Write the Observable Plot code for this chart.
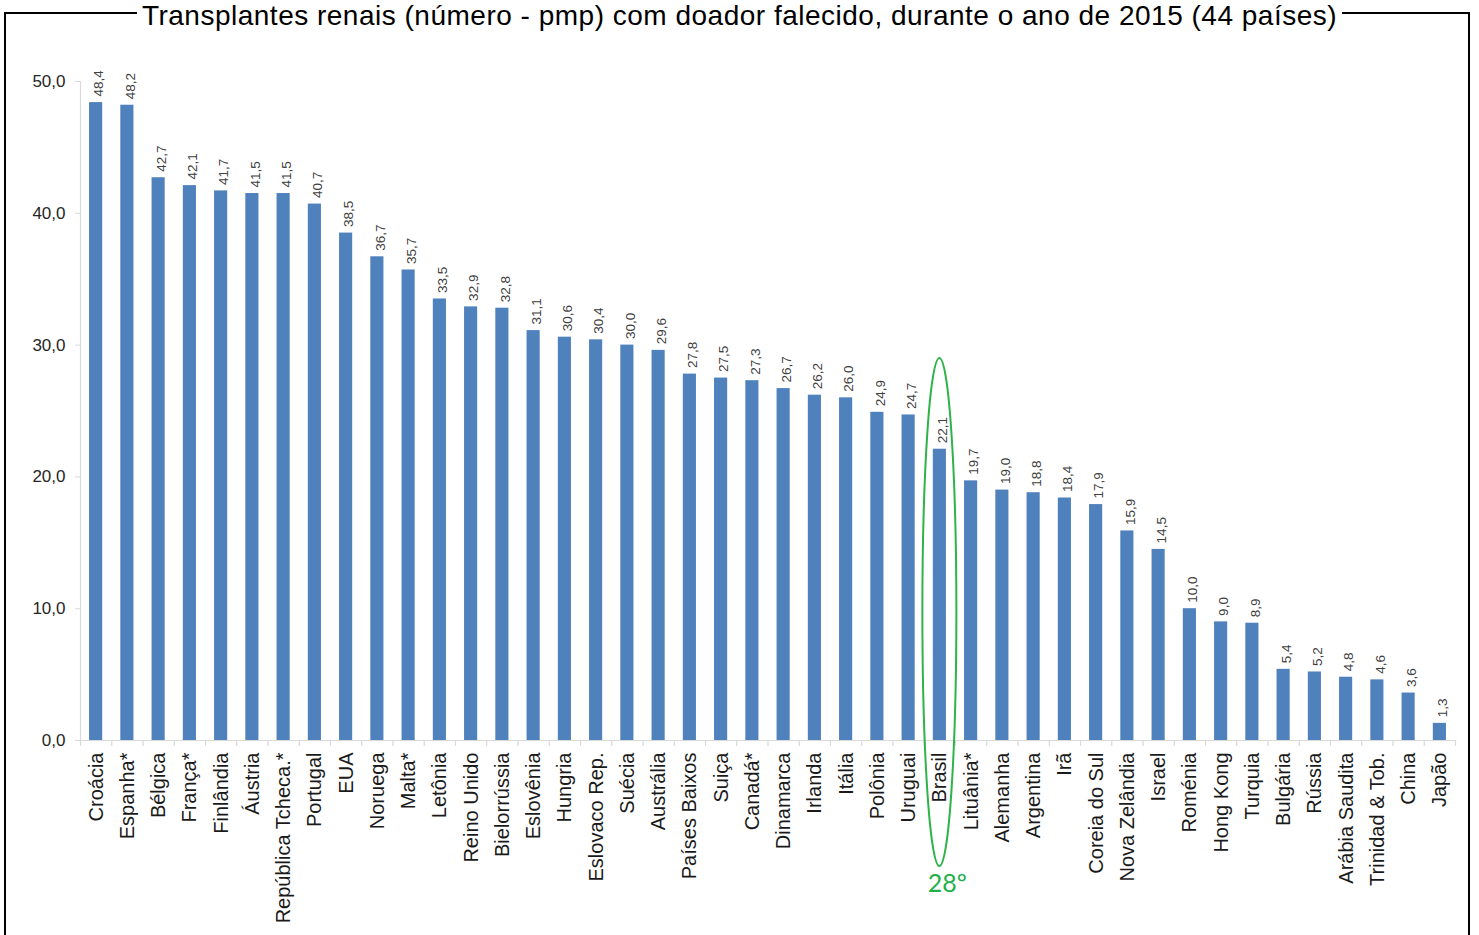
<!DOCTYPE html>
<html><head><meta charset="utf-8">
<script src="https://cdn.jsdelivr.net/npm/d3@7"></script>
<script src="https://cdn.jsdelivr.net/npm/@observablehq/plot@0.6"></script>
<style>
html,body{margin:0;padding:0;background:#fff;overflow:hidden;}
#wrap{position:relative;width:1479px;height:935px;}
#box{position:absolute;left:4px;top:12px;width:1466px;height:960px;border:2.5px solid #000;box-sizing:border-box;}
#title{position:absolute;top:0;left:0;width:1479px;text-align:center;font-family:"Liberation Sans",Arial,sans-serif;font-size:28px;letter-spacing:0.5px;line-height:normal;color:#000;white-space:nowrap;}
#title span{background:#fff;padding:0 5px;}
#chart{position:absolute;left:0;top:0;}
</style></head>
<body><div id="wrap"><div id="box"></div><div id="chart"></div><div id="title"><span>Transplantes renais (número - pmp) com doador falecido, durante o ano de 2015 (44 países)</span></div></div>
<script>
const countries = ["Croácia","Espanha*","Bélgica","França*","Finlândia","Áustria","República Tcheca.*","Portugal","EUA","Noruega","Malta*","Letônia","Reino Unido","Bielorrússia","Eslovênia","Hungria","Eslovaco Rep.","Suécia","Austrália","Países Baixos","Suiça","Canadá*","Dinamarca","Irlanda","Itália","Polônia","Uruguai","Brasil","Lituânia*","Alemanha","Argentina","Irã","Coreia do Sul","Nova Zelândia","Israel","Roménia","Hong Kong","Turquia","Bulgária","Rússia","Arábia Saudita","Trinidad & Tob.","China","Japão"];
const values = [48.4,48.2,42.7,42.1,41.7,41.5,41.5,40.7,38.5,36.7,35.7,33.5,32.9,32.8,31.1,30.6,30.4,30.0,29.6,27.8,27.5,27.3,26.7,26.2,26.0,24.9,24.7,22.1,19.7,19.0,18.8,18.4,17.9,15.9,14.5,10.0,9.0,8.9,5.4,5.2,4.8,4.6,3.6,1.3];
const yTicks = [0,10,20,30,40,50];
const highlight = "Brasil";
const rankLabel = "28º";

const data = countries.map((c,i)=>({country:c, value:values[i]}));
const fmt = v => v.toFixed(1).replace(".", ",");
const W = 1479, H = 935, ML = 80, MR = 24, MT = 81, MB = 195;
const step = (W - ML - MR) / countries.length;
const font = "'Liberation Sans', Arial, sans-serif";

const plot = Plot.plot({
  width: W, height: H,
  marginLeft: ML, marginRight: MR, marginTop: MT, marginBottom: MB,
  style: {fontFamily: font, background: "transparent", overflow: "visible"},
  x: {domain: countries, paddingInner: 0.58, paddingOuter: 0.29, round: false, label: null},
  y: {domain: [0, 50], label: null},
  marks: [
    Plot.frame({anchor: "left", stroke: "#d9d9d9", strokeWidth: 1.2}),
    Plot.barY(data, {x: "country", y: "value", fill: "#4f81bd"}),
    Plot.ruleY([0], {stroke: "#d9d9d9", strokeWidth: 1.2}),
    Plot.ruleX(countries, {x: d => d, dx: -step/2, y1: 0, y2: -0.45, stroke: "#d9d9d9", strokeWidth: 1.2}),
    Plot.ruleX([countries[countries.length-1]], {x: d => d, dx: step/2, y1: 0, y2: -0.45, stroke: "#d9d9d9", strokeWidth: 1.2}),
    Plot.axisY({ticks: yTicks, tickFormat: fmt, tickSize: 5, tickPadding: 10, fontSize: 17, stroke: "#d9d9d9", fill: "#262626"}),
    Plot.axisX({tickSize: 0, tickPadding: 12, tickRotate: -90, fontSize: 20, fill: "#1a1a1a"}),
    Plot.text(data, {x: "country", y: "value", text: d => fmt(d.value), rotate: -90, textAnchor: "start", lineAnchor: "middle", dy: -6, dx: 3, fontSize: 13.5, fill: "#404040"})
  ]
});
document.getElementById("chart").appendChild(plot);

// highlight annotation for Brasil
const sx = plot.scale("x"), sy = plot.scale("y");
const cx = sx.apply(highlight) + sx.bandwidth / 2;
const y0 = sy.apply(0);
const svg = d3.select(plot);
svg.append("ellipse")
  .attr("cx", cx).attr("cy", y0 - 128).attr("rx", 17).attr("ry", 254)
  .attr("fill", "none").attr("stroke", "#2db34a").attr("stroke-width", 2);
svg.append("text")
  .attr("x", cx + 8).attr("y", y0 + 152)
  .attr("text-anchor", "middle")
  .attr("font-family", "Lato, 'Open Sans', sans-serif").attr("font-size", 25)
  .attr("fill", "#22b04b").text(rankLabel);
</script></body></html>
